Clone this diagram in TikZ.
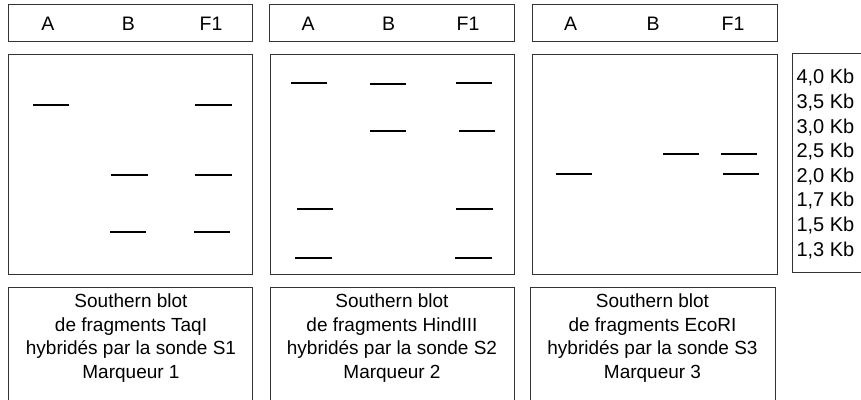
\documentclass[tikz,border=0pt]{standalone}
\usepackage{fontspec}
\setmainfont{Liberation Sans}
\usetikzlibrary{positioning}

\begin{document}
\begin{tikzpicture}[x=1pt, y=-1pt,
    caja/.style={draw=black!80, line width=1.2pt, inner sep=0pt, anchor=north west},
    carril/.style={font=\fontsize{19.5}{22}\selectfont},
    leyenda/.style={align=center, font=\fontsize{19}{23.6}\selectfont},
    banda/.style={line width=2.7pt}]
    \clip (0,0) rectangle (861,399);

    % cabeceras de carriles
    \node[caja, minimum width=244pt, minimum height=37pt] (cab1) at (8,4) {};
    \node[caja, minimum width=245pt, minimum height=37pt] (cab2) at (269,4) {};
    \node[caja, minimum width=245pt, minimum height=37pt] (cab3) at (532,4) {};

    \node[carril] (a1) at (48,24) {A};
    \node[carril] (b1) at (128.5,24) {B};
    \node[carril] (f1) at (211,24) {F1};
    \node[carril] (a2) at (308,24) {A};
    \node[carril] (b2) at (388.5,24) {B};
    \node[carril] (f2) at (468,24) {F1};
    \node[carril] (a3) at (570.5,24) {A};
    \node[carril] (b3) at (653,24) {B};
    \node[carril] (f3) at (733,24) {F1};

    % gels
    \node[caja, minimum width=244pt, minimum height=220pt] (gel1) at (8,54) {};
    \node[caja, minimum width=244pt, minimum height=220pt] (gel2) at (270,54) {};
    \node[caja, minimum width=245pt, minimum height=220pt] (gel3) at (532,54) {};

    % marqueur de taille
    \node[caja, minimum width=90pt, minimum height=219pt] (marq) at (792,53) {};
    \node[anchor=west, align=left, font=\fontsize{20}{24.6}\selectfont] (tailles) at (793,164)
        {4,0 Kb\\3,5 Kb\\3,0 Kb\\2,5 Kb\\2,0 Kb\\1,7 Kb\\1,5 Kb\\1,3 Kb};

    % bandes, marqueur 1
    \draw[banda] (33,105) -- (69,105);
    \draw[banda] (195,105) -- (232,105);
    \draw[banda] (111,175) -- (148,175);
    \draw[banda] (195,175) -- (232,175);
    \draw[banda] (110,232) -- (146,232);
    \draw[banda] (194,232) -- (230,232);

    % bandes, marqueur 2
    \draw[banda] (291,83) -- (327,83);
    \draw[banda] (370,84) -- (406,84);
    \draw[banda] (456,83) -- (492,83);
    \draw[banda] (370,131) -- (406,131);
    \draw[banda] (459,131) -- (495,131);
    \draw[banda] (297,209) -- (333,209);
    \draw[banda] (456,209) -- (493,209);
    \draw[banda] (295,258) -- (332,258);
    \draw[banda] (455,258) -- (492,258);

    % bandes, marqueur 3
    \draw[banda] (556,174) -- (592,174);
    \draw[banda] (663,154) -- (699,154);
    \draw[banda] (721,154) -- (757,154);
    \draw[banda] (723,174) -- (759,174);

    % legendes
    \node[caja, minimum width=244pt, minimum height=130pt] (leg1) at (8,287) {};
    \node[caja, minimum width=244pt, minimum height=130pt] (leg2) at (270,287) {};
    \node[caja, minimum width=245pt, minimum height=130pt] (leg3) at (530,287) {};

    \node[leyenda] (txt1) at (131,338) {Southern blot\\de fragments TaqI\\hybridés par la sonde S1\\Marqueur 1};
    \node[leyenda] (txt2) at (392,338) {Southern blot\\de fragments HindIII\\hybridés par la sonde S2\\Marqueur 2};
    \node[leyenda] (txt3) at (652.5,338) {Southern blot\\de fragments EcoRI\\hybridés par la sonde S3\\Marqueur 3};
\end{tikzpicture}
\end{document}
